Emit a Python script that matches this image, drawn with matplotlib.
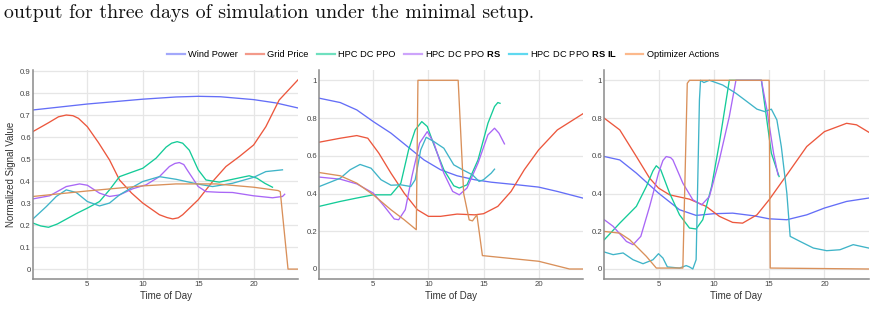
import matplotlib
matplotlib.use("Agg")
import matplotlib.pyplot as plt
from matplotlib.lines import Line2D
from matplotlib.ticker import FuncFormatter
import numpy as np

plt.rcParams['font.family'] = ['Liberation Sans', 'DejaVu Sans']
plt.rcParams['mathtext.fontset'] = 'custom'
plt.rcParams['mathtext.rm'] = 'Liberation Sans'
plt.rcParams['mathtext.bf'] = 'Liberation Sans:bold'

names = ['Wind Power', 'Grid Price', 'HPC DC PPO',
         '$\\mathrm{HPC\\ DC\\ PPO}\\ \\mathbf{RS}$',
         '$\\mathrm{HPC\\ DC\\ PPO}\\ \\mathbf{RS\\ IL}$', 'Optimizer Actions']
colors = ['#646ef7', '#ec573d', '#14cb98', '#a967f6', '#3fb4c8', '#d9905a']
legend_colors = ['#a3a8fb', '#f39a8a', '#6fe0bf', '#cda4fb', '#5fd9f0', '#fcb98c']

# ---- day 1 ----
d1_wind_t = [0.1, 5, 10, 13, 15, 17, 20, 22, 24]
d1_wind = [0.723, 0.75, 0.772, 0.782, 0.785, 0.783, 0.77, 0.755, 0.732]
d1_price_t = [0.1, 1.5, 2.4, 3.1, 3.7, 4.2, 5, 6, 7, 7.9, 9, 10, 11.5, 12.2, 12.7, 13.2, 13.6, 15, 16.3, 17.5, 18.7, 20, 21.1, 22.3, 24]
d1_price = [0.625, 0.665, 0.692, 0.70, 0.697, 0.685, 0.647, 0.575, 0.496, 0.405, 0.345, 0.30, 0.247, 0.234, 0.228, 0.233, 0.247, 0.315, 0.398, 0.466, 0.511, 0.564, 0.647, 0.768, 0.86]
d1_ppo_t = [0.1, 0.8, 1.5, 2.3, 3.1, 4, 5, 6.1, 7, 7.9, 9, 10, 11.2, 12.1, 12.6, 13.1, 13.6, 14.2, 15, 15.7, 16.9, 18.1, 19.6, 20.3, 21, 21.7]
d1_ppo = [0.209, 0.196, 0.19, 0.205, 0.227, 0.252, 0.277, 0.307, 0.36, 0.42, 0.44, 0.458, 0.504, 0.554, 0.572, 0.579, 0.572, 0.54, 0.451, 0.405, 0.395, 0.408, 0.424, 0.413, 0.39, 0.372]
d1_rs_t = [0.1, 1.6, 3.1, 4.3, 5, 6.1, 7, 7.9, 9.1, 10.3, 11.5, 12.4, 12.9, 13.3, 13.7, 14, 15, 15.7, 16.9, 18.1, 20, 21.7, 22.6, 22.8]
d1_rs = [0.319, 0.333, 0.375, 0.387, 0.381, 0.345, 0.33, 0.337, 0.365, 0.383, 0.42, 0.466, 0.48, 0.484, 0.475, 0.451, 0.375, 0.352, 0.349, 0.348, 0.333, 0.324, 0.33, 0.34]
d1_il_t = [0.1, 1.3, 2.2, 3.1, 4, 5, 6.1, 7, 7.9, 9, 10, 11.5, 13, 15, 16.3, 18.1, 20, 21.1, 22.6]
d1_il = [0.228, 0.284, 0.33, 0.36, 0.348, 0.307, 0.287, 0.30, 0.337, 0.37, 0.398, 0.42, 0.408, 0.386, 0.375, 0.39, 0.417, 0.443, 0.451]
d1_opt_t = [0.1, 5, 10, 13, 16.6, 20, 22.2, 22.4, 23.1, 24]
d1_opt = [0.33, 0.355, 0.378, 0.387, 0.387, 0.372, 0.357, 0.352, 0.0, 0.0]

# ---- day 2 ----
d2_wind_t = [0.1, 2, 3.5, 5, 6.6, 8.1, 9.6, 11.1, 12.6, 14.2, 15.7, 18.1, 20, 21.7, 24]
d2_wind = [0.905, 0.882, 0.843, 0.781, 0.72, 0.649, 0.578, 0.526, 0.494, 0.473, 0.46, 0.446, 0.434, 0.411, 0.376]
d2_price_t = [0.1, 2, 3.5, 4.5, 5.5, 6.6, 7.8, 9, 10, 11.1, 12.6, 14.2, 15, 16.3, 17.5, 18.7, 20, 21.7, 24]
d2_price = [0.672, 0.693, 0.707, 0.693, 0.614, 0.508, 0.402, 0.314, 0.279, 0.279, 0.291, 0.287, 0.293, 0.332, 0.411, 0.526, 0.631, 0.737, 0.822]
d2_ppo_t = [0.1, 2, 3.5, 5, 6.6, 7.5, 8.2, 8.8, 9.4, 9.9, 10.5, 11.4, 12.3, 12.8, 13.5, 14.5, 15.4, 16, 16.3, 16.5]
d2_ppo = [0.332, 0.358, 0.376, 0.393, 0.393, 0.455, 0.631, 0.737, 0.781, 0.755, 0.658, 0.526, 0.441, 0.429, 0.446, 0.578, 0.772, 0.861, 0.882, 0.878]
d2_rs_t = [0.1, 2, 3.5, 5, 6, 6.9, 7.3, 7.9, 8.5, 9.2, 9.9, 10.5, 11.4, 12.2, 12.8, 13.5, 14.5, 15.4, 16, 16.4, 16.9]
d2_rs = [0.487, 0.476, 0.451, 0.402, 0.332, 0.265, 0.261, 0.314, 0.49, 0.667, 0.728, 0.667, 0.508, 0.411, 0.393, 0.429, 0.561, 0.711, 0.746, 0.72, 0.663]
d2_il_t = [0.1, 2, 2.9, 3.8, 4.8, 5.7, 6.6, 7.5, 8.4, 8.8, 9.3, 9.8, 10.5, 11.4, 12.3, 13.1, 14, 14.6, 15, 15.7, 16]
d2_il = [0.437, 0.481, 0.526, 0.554, 0.534, 0.473, 0.444, 0.446, 0.437, 0.473, 0.631, 0.698, 0.675, 0.64, 0.552, 0.526, 0.499, 0.464, 0.473, 0.508, 0.529]
d2_opt_t = [0.1, 2, 3.5, 5, 6.6, 7.8, 8.9, 9.05, 12.7, 13.2, 13.7, 14.0, 14.4, 14.9, 20, 22.8, 24]
d2_opt = [0.511, 0.494, 0.455, 0.393, 0.314, 0.261, 0.208, 1.0, 1.0, 0.40, 0.26, 0.255, 0.287, 0.071, 0.041, 0.0, 0.0]

# ---- day 3 ----
d3_wind_t = [0.1, 1.5, 3, 5, 6.9, 8.4, 10, 11.7, 13.6, 15, 16.6, 18.4, 20, 22, 24]
d3_wind = [0.596, 0.578, 0.508, 0.402, 0.314, 0.284, 0.293, 0.296, 0.282, 0.266, 0.261, 0.287, 0.323, 0.358, 0.376]
d3_price_t = [0.1, 1.5, 3, 4.2, 5, 6, 7.8, 9.3, 10.5, 11.7, 12.6, 13.9, 15, 16.6, 18.4, 20, 22, 22.9, 24]
d3_price = [0.799, 0.737, 0.596, 0.481, 0.429, 0.393, 0.37, 0.332, 0.279, 0.247, 0.243, 0.287, 0.367, 0.499, 0.649, 0.728, 0.772, 0.764, 0.725]
d3_ppo_t = [0.1, 1.5, 3, 3.9, 4.5, 4.8, 5.2, 6, 6.9, 7.8, 8.4, 9, 9.8, 10.5, 11.4, 14.3, 15.2, 15.9]
d3_ppo = [0.155, 0.243, 0.332, 0.437, 0.52, 0.547, 0.526, 0.402, 0.287, 0.217, 0.212, 0.261, 0.437, 0.667, 1.0, 1.0, 0.614, 0.49]
d3_rs_t = [0.1, 0.9, 2.1, 2.7, 3.4, 4.2, 5, 5.4, 5.7, 6.1, 6.3, 7.2, 8.1, 8.9, 9.6, 10.5, 11.4, 12, 14.3, 14.8, 15.4, 15.8]
d3_rs = [0.261, 0.226, 0.146, 0.129, 0.173, 0.332, 0.508, 0.575, 0.596, 0.59, 0.578, 0.455, 0.367, 0.34, 0.384, 0.578, 0.808, 1.0, 1.0, 0.843, 0.614, 0.499]
d3_il_t = [0.1, 0.9, 1.8, 2.7, 3.6, 4.5, 5, 5.4, 5.8, 6.9, 7.5, 7.8, 8.1, 8.4, 8.7, 8.8, 9.1, 9.6, 10.8, 12, 13, 13.9, 14.6, 15.2, 15.7, 16.1, 16.6, 16.9, 17.8, 19, 20.2, 21.4, 22.6, 24]
d3_il = [0.09, 0.076, 0.085, 0.049, 0.028, 0.049, 0.081, 0.058, 0.011, 0.005, 0.018, 0.011, 0.0, 0.049, 0.896, 1.0, 0.988, 1.0, 0.975, 0.931, 0.887, 0.847, 0.834, 0.847, 0.79, 0.649, 0.402, 0.173, 0.146, 0.111, 0.097, 0.102, 0.129, 0.111]
d3_opt_t = [0.1, 1.5, 2.4, 3.9, 4.8, 7.2, 7.6, 7.8, 15.0, 15.1, 24]
d3_opt = [0.199, 0.19, 0.155, 0.067, 0.005, 0.005, 0.984, 1.0, 1.0, 0.005, 0.0]

days = [
    [(d1_wind_t, d1_wind), (d1_price_t, d1_price), (d1_ppo_t, d1_ppo), (d1_rs_t, d1_rs), (d1_il_t, d1_il), (d1_opt_t, d1_opt)],
    [(d2_wind_t, d2_wind), (d2_price_t, d2_price), (d2_ppo_t, d2_ppo), (d2_rs_t, d2_rs), (d2_il_t, d2_il), (d2_opt_t, d2_opt)],
    [(d3_wind_t, d3_wind), (d3_price_t, d3_price), (d3_ppo_t, d3_ppo), (d3_rs_t, d3_rs), (d3_il_t, d3_il), (d3_opt_t, d3_opt)],
]

fig = plt.figure(figsize=(8.75, 3.10), dpi=100)

fig.text(0.004, 1 - 18 / 310, 'output for three days of simulation under the minimal setup.',
         family='cmr10', fontsize=14.3, color='#111111', va='baseline', ha='left')

lefts = [33 / 875, 319.3 / 875, 604.3 / 875]
widths = [265 / 875, 263.4 / 875, 264.4 / 875]
axes = []
for i, day in enumerate(days):
    ax = fig.add_axes([lefts[i], 0.1, widths[i], 0.6745])
    for (t, v), c in zip(day, colors):
        ax.plot(t, v, color=c, lw=0.95)
    ax.set_xlim(0.1, 24)
    if i == 0:
        ax.set_ylim(-0.045, 0.905)
        ax.set_yticks(np.arange(0, 0.95, 0.1))
        ax.set_ylabel('Normalized Signal Value', fontsize=7, color='#333333', labelpad=3)
    else:
        ax.set_ylim(-0.053, 1.055)
        ax.set_yticks(np.arange(0, 1.05, 0.2))
    ax.set_xticks([5, 10, 15, 20])
    ax.yaxis.set_major_formatter(FuncFormatter(lambda v, p: '%g' % round(v, 2)))
    ax.set_xlabel('Time of Day', fontsize=7, color='#333333', labelpad=2)
    ax.grid(True, color='#e6e6e6', lw=0.9)
    ax.set_axisbelow(True)
    for s in ['top', 'right']:
        ax.spines[s].set_visible(False)
    for s in ['left', 'bottom']:
        ax.spines[s].set_color('#8a8a8a')
        ax.spines[s].set_linewidth(1.1)
    ax.tick_params(length=0, labelsize=5.6, labelcolor='#444444', pad=1.5)
    axes.append(ax)

handles = [Line2D([], [], color=c, lw=1.6) for c in legend_colors]
fig.legend(handles, names, loc='center', bbox_to_anchor=(443 / 875, 1 - 54 / 310), ncol=6,
           frameon=False, fontsize=6.7, handlelength=1.9, handletextpad=0.35, columnspacing=0.9)

fig.savefig('out.png', dpi=100)
